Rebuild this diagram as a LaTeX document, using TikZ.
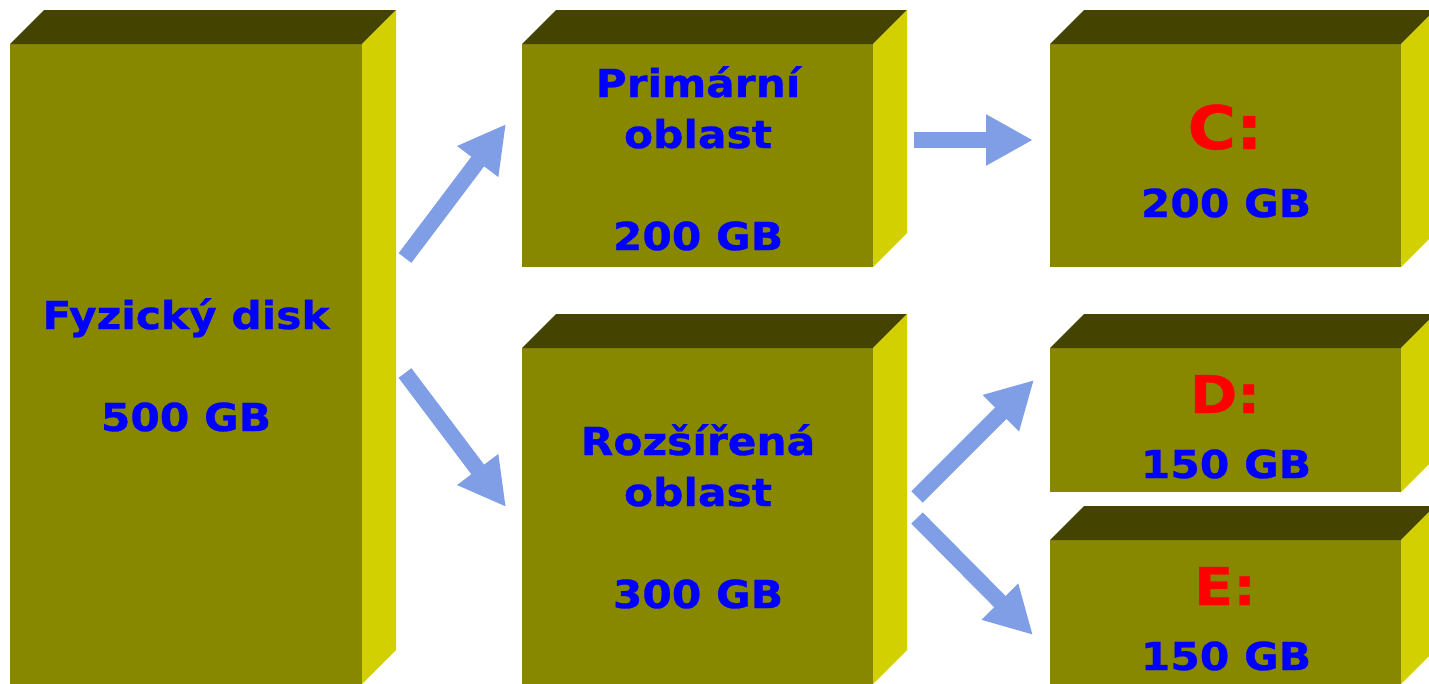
\documentclass[tikz,border=0pt]{standalone}
\usepackage{fontspec}
\newfontfamily\diskfont{DejaVu Sans Bold}[FakeStretch=1.1, FakeBold=0.8]
\usetikzlibrary{arrows.meta}

\definecolor{frontcol}{RGB}{136,136,0}
\definecolor{topcol}{RGB}{68,68,0}
\definecolor{sidecol}{RGB}{210,208,0}
\definecolor{arrowcol}{RGB}{128,158,230}
\definecolor{sizecol}{RGB}{0,0,255}
\definecolor{drivecol}{RGB}{255,0,0}

\tikzset{
    blockfront/.style={fill=frontcol},
    blocktop/.style={fill=topcol},
    blockside/.style={fill=sidecol},
    sizetext/.style={font=\diskfont\fontsize{38.5}{51}\selectfont, text=sizecol,
        align=center, anchor=base, inner sep=0pt},
    drivetext/.style={font=\diskfont\fontsize{60}{60}\selectfont, text=drivecol,
        anchor=base, inner sep=0pt},
    flow/.style={draw=arrowcol, line width=16pt, -{Triangle[length=47pt,width=48pt]}}
}

\begin{document}
\begin{tikzpicture}[x=1pt, y=-1pt]
    \useasboundingbox (0,0) rectangle (1429,683);

    % blocks: front face corners, depth 34
    \foreach \xa/\ya/\xb/\yb in {10/44/362/684, 522/44/873/267, 1050/44/1401/267,
                                 522/348/873/684, 1050/348/1401/492, 1050/540/1401/684} {
        \fill[style=blockfront] (\xa,\ya) rectangle (\xb,\yb);
        \fill[style=blocktop] (\xa,\ya) -- ++(34,-34) -- (\xb+34,\ya-34) -- (\xb,\ya) -- cycle;
        \fill[style=blockside] (\xb,\ya) -- ++(34,-34) -- (\xb+34,\yb-34) -- (\xb,\yb) -- cycle;
    }

    % base = baseline of the last line
    \node[sizetext](disk_t) at (186, 431) {Fyzický disk\\[51pt]500 GB};
    \node[sizetext](prim_t) at (698, 250) {Primární\\oblast\\[51pt]200 GB};
    \node[sizetext](ext_t) at (698, 608) {Rozšířená\\oblast\\[51pt]300 GB};

    \node[drivetext](c_l) at (1225, 149) {C:};
    \node[sizetext](c_s) at (1226, 217) {200 GB};
    \node[drivetext, font=\diskfont\fontsize{52}{52}\selectfont](d_l) at (1225, 413) {D:};
    \node[sizetext](d_s) at (1226, 478) {150 GB};
    \node[drivetext, font=\diskfont\fontsize{52}{52}\selectfont](e_l) at (1225, 605) {E:};
    \node[sizetext](e_s) at (1226, 670) {150 GB};

    % arrow ends
    \coordinate(a_1_b) at (405, 258);
    \coordinate(a_1_e) at (506, 124);
    \coordinate(a_2_b) at (405, 373);
    \coordinate(a_2_e) at (506, 507);
    \coordinate(a_3_b) at (914, 140);
    \coordinate(a_3_e) at (1033, 140);
    \coordinate(a_4_b) at (917, 497);
    \coordinate(a_4_e) at (1034, 380);
    \coordinate(a_5_b) at (917, 518);
    \coordinate(a_5_e) at (1033, 635);

    \draw[flow] (a_1_b) -- (a_1_e);
    \draw[flow] (a_2_b) -- (a_2_e);
    \draw[flow] (a_3_b) -- (a_3_e);
    \draw[flow] (a_4_b) -- (a_4_e);
    \draw[flow] (a_5_b) -- (a_5_e);

\end{tikzpicture}
\end{document}
